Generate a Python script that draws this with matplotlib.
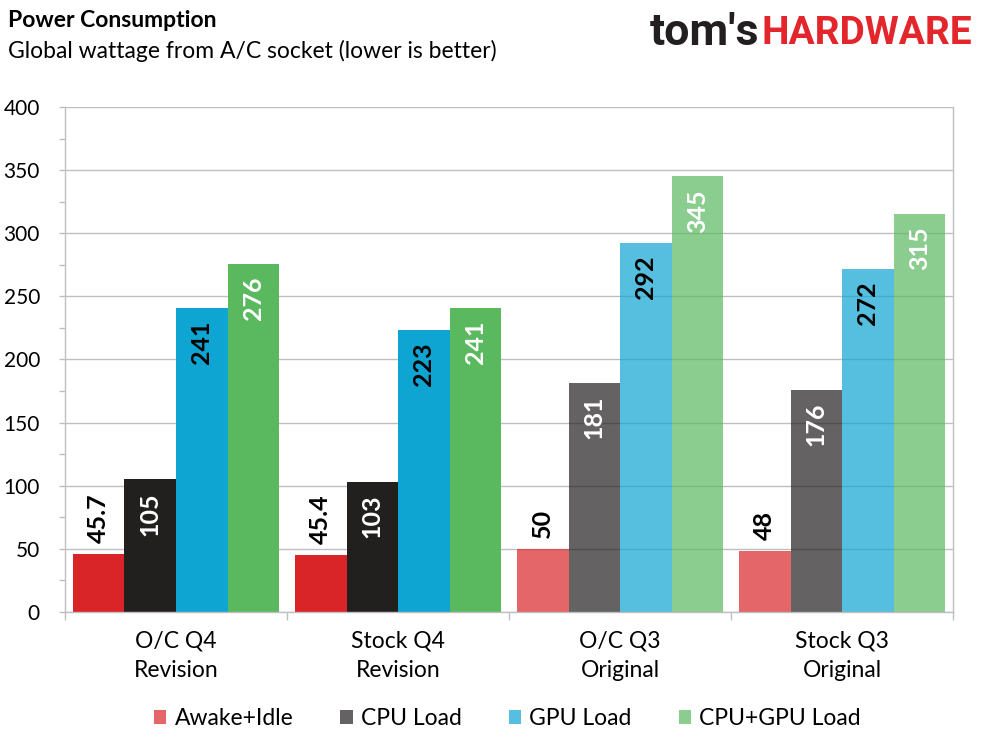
import matplotlib
matplotlib.use("Agg")
import matplotlib.pyplot as plt
from matplotlib import font_manager
from matplotlib.patches import Patch
from matplotlib.colors import to_rgba
import numpy as np

# data
groups = ["O/C Q4\nRevision", "Stock Q4\nRevision", "O/C Q3\nOriginal", "Stock Q3\nOriginal"]
series = ["Awake+Idle", "CPU Load", "GPU Load", "CPU+GPU Load"]
idle = [45.7, 45.4, 50, 48]
cpu_load = [105, 103, 181, 176]
gpu_load = [241, 223, 292, 272]
cpu_gpu_load = [276, 241, 345, 315]
values = [idle, cpu_load, gpu_load, cpu_gpu_load]

colors = ["#D92528", "#221F1F", "#0EA5D2", "#5AB85E"]
label_colors = ["black", "white", "black", "white"]
group_alpha = [1.0, 1.0, 0.7, 0.7]

installed = {f.name for f in font_manager.fontManager.ttflist}
base_font = "Lato" if "Lato" in installed else "DejaVu Sans"
plt.rcParams["font.family"] = [base_font, "DejaVu Sans"]

fig = plt.figure(figsize=(9.89, 7.42), dpi=100)
ax = fig.add_axes([0.0657, 0.1752, 0.8980, 0.6806])

n = len(series)
bar_w = 0.232
x = np.arange(len(groups))
grid_c = "#BFBFBF"

for i, (vals, col) in enumerate(zip(values, colors)):
    offs = (i - (n - 1) / 2) * bar_w
    for g, v in enumerate(vals):
        ax.bar(x[g] + offs, v, width=bar_w, color=to_rgba(col, group_alpha[g]),
               linewidth=0, zorder=2)
        txt = f"{v:g}"
        if i == 0:
            ax.annotate(txt, (x[g] + offs, v), xytext=(0, 8), textcoords="offset points",
                        rotation=90, ha="center", va="bottom", fontsize=18,
                        fontweight="bold", color="black", zorder=3)
        else:
            ax.annotate(txt, (x[g] + offs, v), xytext=(0, -9), textcoords="offset points",
                        rotation=90, ha="center", va="top", fontsize=18,
                        fontweight="bold", color=label_colors[i], zorder=3)

ax.set_xlim(-0.5, len(groups) - 0.5)
ax.set_ylim(0, 400)
ax.set_yticks(np.arange(0, 401, 50))
ax.set_yticks(np.arange(25, 400, 50), minor=True)
ax.yaxis.grid(True, color=grid_c, linewidth=1.0, zorder=0)
ax.set_axisbelow(True)

ax.set_xticks(x)
ax.set_xticklabels(groups, fontsize=16.5, linespacing=1.55)
ax.set_xticks(np.arange(-0.5, len(groups)), minor=True)
ax.tick_params(axis="x", which="major", length=0, pad=13)
ax.tick_params(axis="x", which="minor", length=6, color=grid_c, width=1.0)
ax.tick_params(axis="y", which="both", direction="out", length=4, color=grid_c, width=1.0)
ax.tick_params(axis="y", which="major", labelsize=15, pad=14)

for side in ["left", "bottom", "right"]:
    ax.spines[side].set_color(grid_c)
    ax.spines[side].set_linewidth(1.0)
ax.spines["top"].set_visible(False)

handles = [Patch(facecolor=to_rgba(c, 0.7), edgecolor="none") for c in colors]
fig.legend(handles, series, loc="center", bbox_to_anchor=(0.513, 0.032), ncol=4,
           frameon=False, fontsize=16.5, handlelength=0.55, handleheight=0.55,
           handletextpad=0.35, columnspacing=2.05)

fig.text(0.008, 0.972, "Power Consumption", fontsize=16.5, fontweight="bold",
         ha="left", va="center")
fig.text(0.008, 0.932, "Global wattage from A/C socket (lower is better)", fontsize=16.5,
         ha="left", va="center")

# logo
if "Liberation Sans Narrow" in installed:
    logo_font, logo_size = "Liberation Sans Narrow", 33
else:
    logo_font, logo_size = "Roboto", 28
fig.text(0.768, 0.955, "tom's", fontsize=logo_size * 1.15, fontweight="bold", color="#231F20",
         family=[logo_font, "DejaVu Sans"], ha="right", va="center")
fig.text(0.770, 0.955, "HARDWARE", fontsize=logo_size, fontweight="bold", color="#E3262C",
         family=[logo_font, "DejaVu Sans"], ha="left", va="center")

fig.savefig("out.png", dpi=100)
